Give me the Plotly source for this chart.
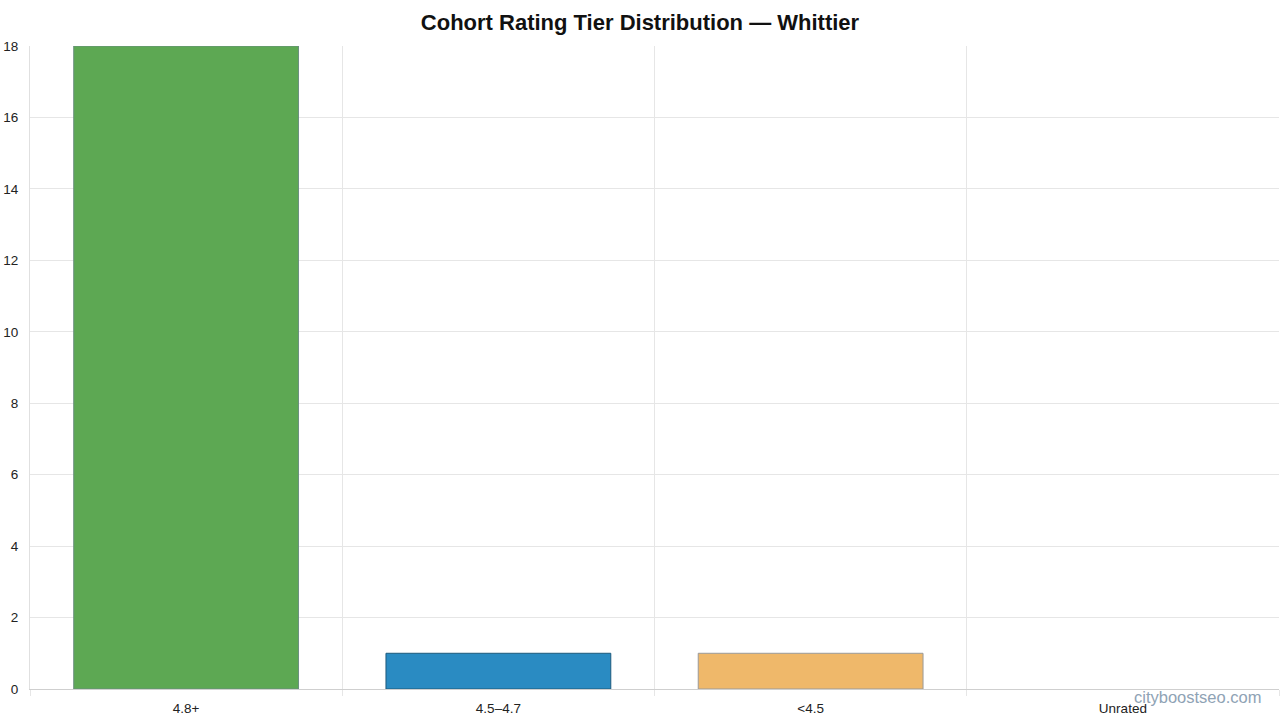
import plotly.graph_objects as go

# Données
tiers = ["4.8+", "4.5–4.7", "<4.5", "Unrated"]
counts = [18, 1, 1, 0]
bar_colors = ["#5da853", "#2a8bc2", "#efb86a", "#cccccc"]
edge_colors = ["#6b8f80", "#1d5a7c", "#9a9a9a", "#cccccc"]
edge_widths = [1, 1, 1, 0]

fig = go.Figure()

fig.add_trace(
    go.Bar(
        x=tiers,
        y=counts,
        width=0.72,
        marker=dict(color=bar_colors, line=dict(color=edge_colors, width=edge_widths)),
        hoverinfo="x+y",
        showlegend=False,
    )
)

fig.update_layout(
    title=dict(
        text="<b>Cohort Rating Tier Distribution — Whittier</b>",
        x=0.5,
        xanchor="center",
        y=1 - 22 / 720,
        yanchor="middle",
        yref="container",
        font=dict(family="Liberation Sans, Arial, sans-serif", size=22, color="#111111"),
    ),
    width=1280,
    height=720,
    margin=dict(l=30, r=1, t=46, b=31),
    paper_bgcolor="white",
    plot_bgcolor="white",
    font=dict(family="Liberation Sans, Arial, sans-serif", size=13, color="#222222"),
)

fig.update_xaxes(
    type="category",
    tickson="boundaries",
    showgrid=True,
    gridcolor="#e6e6e6",
    gridwidth=1,
    ticks="outside",
    ticklen=6,
    tickcolor="#e6e6e6",
    ticklabelstandoff=7,
    showline=True,
    linecolor="#cfcfcf",
    linewidth=1,
    tickfont=dict(size=13.5, color="#222222"),
    fixedrange=True,
)

fig.update_yaxes(
    range=[0, 18],
    dtick=2,
    showgrid=True,
    gridcolor="#e6e6e6",
    gridwidth=1,
    zeroline=False,
    showline=True,
    linecolor="#e0e0e0",
    linewidth=1,
    ticks="",
    ticklabelstandoff=8,
    tickfont=dict(size=13.5, color="#222222"),
    fixedrange=True,
)

# Filigrane
fig.add_annotation(
    text="cityboostseo.com",
    xref="paper",
    yref="paper",
    x=(1263 - 30) / 1249,
    y=(689 - 697) / 643,
    xanchor="right",
    yanchor="middle",
    showarrow=False,
    font=dict(family="Liberation Sans, Arial, sans-serif", size=16.5, color="#8fa3b5"),
)

# la page a une marge par défaut de 8px : on la retire
fig.write_html(
    "out.html",
    config={"displayModeBar": False},
    post_script="document.body.style.margin='0';",
)
